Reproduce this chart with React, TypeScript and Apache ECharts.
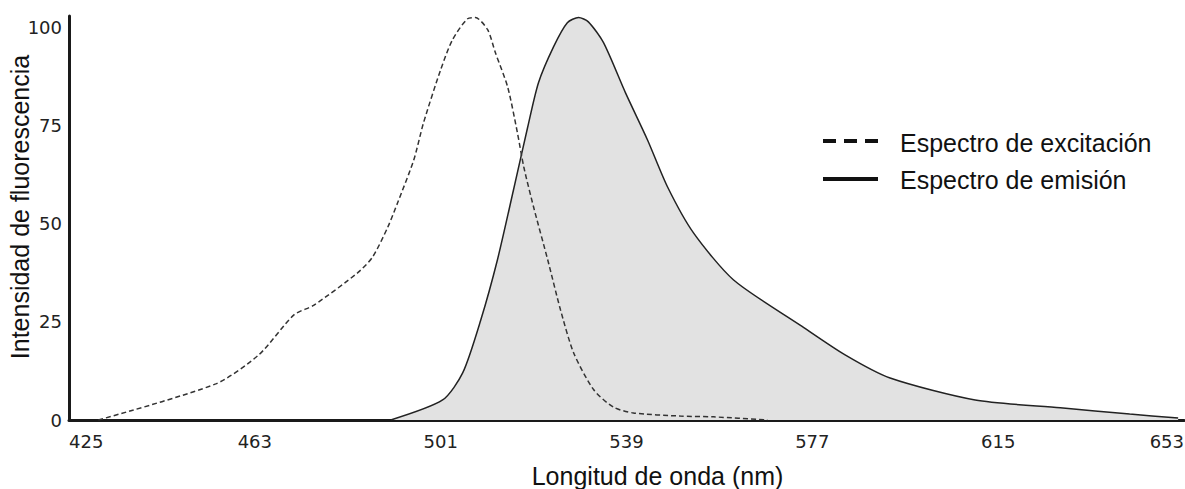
import React, { useEffect, useRef } from "react";
import * as echarts from "echarts";

const xTickLabels = [425, 463, 501, 539, 577, 615, 653];
const yTickLabels = [0, 25, 50, 75, 100];

const excitationWavelengths = [431, 455, 463.8, 471, 475.1, 484, 487.1, 490.2, 492.2, 495.5, 497.5, 501, 503.4, 506.5, 508.1, 510.6, 512.2, 514.7, 516.7, 518, 520, 522.9, 525.5, 528.2, 532.3, 536.3, 540.4, 550, 556.8, 567.8];
const excitationValues = [0, 9.2, 16.6, 26.8, 29.3, 37.5, 41.6, 49.2, 55.4, 66.3, 75.8, 89.3, 96.9, 102.3, 102.6, 99.5, 93.6, 84.9, 73.2, 64.5, 54.3, 40.8, 28.1, 17.1, 7.7, 3.3, 1.8, 1.0, 0.8, 0];

const emissionWavelengths = [490.8, 501.4, 505.5, 509.2, 512.6, 515.9, 518.8, 521, 524.1, 526.9, 529.2, 531.2, 534.3, 538.8, 543.3, 547.4, 552.7, 560.9, 574.5, 583.7, 592.9, 610.3, 627.7, 641.9, 651.8];
const emissionValues = [0, 5.1, 12, 25.5, 40.8, 58.7, 74.7, 86, 95.2, 101.3, 102.6, 101.5, 96.2, 83.4, 71.4, 59.4, 47.7, 35.7, 24.2, 16.6, 10.7, 5.1, 3.1, 1.5, 0.5];

const legendLabels = ["Espectro de excitación", "Espectro de emisión"];
const xAxisTitle = "Longitud de onda (nm)";
const yAxisTitle = "Intensidad de fluorescencia";

export default function App() {
  const ref = useRef<HTMLDivElement>(null);
  useEffect(() => {
    if (!ref.current) return;
    const chart = echarts.init(ref.current, undefined, { renderer: "svg" });
    const sans = "'Liberation Sans', Arial, sans-serif";
    const tickFont = "'DejaVu Sans', Verdana, sans-serif";
    chart.setOption({
      animation: false,
      backgroundColor: "#ffffff",
      grid: { left: 69, right: 1, top: 16, bottom: 69, containLabel: false, outerBoundsMode: "none" },
      xAxis: {
        type: "value",
        min: 425,
        max: 653,
        name: xAxisTitle,
        nameLocation: "middle",
        nameGap: 43,
        nameMoveOverlap: false,
        nameTextStyle: { fontFamily: sans, fontSize: 25, color: "#111", padding: [0, 0, 0, 62] },
        axisLine: { show: true, lineStyle: { color: "#1a1a1a", width: 3 } },
        axisTick: { show: false },
        splitLine: { show: false },
        axisLabel: {
          customValues: xTickLabels,
          margin: 12,
          fontFamily: tickFont,
          fontSize: 18,
          color: "#222",
          alignMinLabel: "left",
          alignMaxLabel: "right",
        },
      },
      yAxis: {
        type: "value",
        min: 0,
        max: 103,
        name: yAxisTitle,
        nameLocation: "middle",
        nameRotate: 90,
        nameGap: 37,
        nameMoveOverlap: false,
        nameTextStyle: { fontFamily: sans, fontSize: 25, color: "#111", padding: [0, 0, 0, 22] },
        axisLine: { show: true, lineStyle: { color: "#1a1a1a", width: 3 } },
        axisTick: { show: false },
        splitLine: { show: false },
        axisLabel: {
          customValues: yTickLabels,
          margin: 7,
          fontFamily: tickFont,
          fontSize: 18,
          color: "#222",
        },
      },
      series: [
        {
          name: legendLabels[1],
          type: "line",
          data: emissionWavelengths.map((w, i) => [w, emissionValues[i]]),
          symbol: "none",
          smooth: 0.25,
          lineStyle: { color: "#222", width: 1.5 },
          areaStyle: { color: "#e2e2e2", opacity: 1 },
          z: 2,
        },
        {
          name: legendLabels[0],
          type: "line",
          data: excitationWavelengths.map((w, i) => [w, excitationValues[i]]),
          symbol: "none",
          smooth: 0.25,
          lineStyle: { color: "#333", width: 1.5, type: [5, 3] },
          z: 3,
        },
      ],
      graphic: [
        { type: "line", shape: { x1: 823, y1: 141, x2: 878, y2: 141 }, style: { stroke: "#111", lineWidth: 4, lineDash: [13, 8] } },
        { type: "text", x: 900, y: 143, style: { text: legendLabels[0], font: `25px ${sans}`, fill: "#111", verticalAlign: "middle" } },
        { type: "line", shape: { x1: 823, y1: 179, x2: 878, y2: 179 }, style: { stroke: "#111", lineWidth: 4 } },
        { type: "text", x: 900, y: 180, style: { text: legendLabels[1], font: `25px ${sans}`, fill: "#111", verticalAlign: "middle" } },
      ],
    });
    return () => chart.dispose();
  }, []);
  return <div ref={ref} style={{ position: "absolute", left: 0, top: 0, width: 1185, height: 489 }} />;
}
